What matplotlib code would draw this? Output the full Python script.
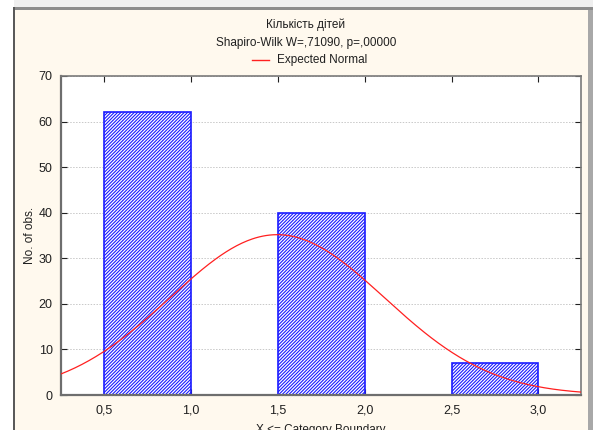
import numpy as np
import matplotlib
matplotlib.use("Agg")
import matplotlib.pyplot as plt
from matplotlib.patches import Rectangle

plt.rcParams['font.family'] = ['Liberation Sans', 'DejaVu Sans']
plt.rcParams['hatch.linewidth'] = 0.8
plt.rcParams['hatch.color'] = '#3c3cff'

# Number of children per family and how many families had it
child_counts = [1, 2, 3]
frequencies = [62, 40, 7]
bin_width = 0.5
x_ticks = [0.5, 1.0, 1.5, 2.0, 2.5, 3.0]
x_tick_labels = ["0,5", "1,0", "1,5", "2,0", "2,5", "3,0"]
y_ticks = [0, 10, 20, 30, 40, 50, 60, 70]
y_tick_labels = ["0", "10", "20", "30", "40", "50", "60", "70"]

title = "Кількість дітей"
subtitle = "Shapiro-Wilk W=,71090, p=,00000"
legend_label = "Expected Normal"
x_label = "X <= Category Boundary"
y_label = "No. of obs."

W, H = 601, 430
fig = plt.figure(figsize=(W / 100, H / 100), dpi=100)
fig.patch.set_facecolor('white')


def fx(px):
    return px / W


def fy(py):
    return 1 - py / H


def frect(x0, y0, x1, y1, color):
    fig.patches.append(Rectangle((fx(x0), fy(y1)), fx(x1) - fx(x0), fy(y0) - fy(y1),
                                 transform=fig.transFigure, facecolor=color,
                                 edgecolor='none', zorder=-10))


# window frame around the graph panel
frect(14, 0, 593, 7, '#efefef')
frect(14, 7, 593, 10, '#8c8c8c')
frect(14, 10, 589, 430, '#fff9ee')
frect(588, 10, 593, 430, '#a8a8a8')
frect(13, 7, 15, 430, '#5a5a5a')

ax = fig.add_axes([fx(61), fy(395), fx(581) - fx(61), fy(76) - fy(395)])
ax.set_zorder(5)
ax.set_facecolor('white')
ax.set_xlim(0.25, 3.245)
ax.set_ylim(0, 70)

# histogram bars: each bin ends at its category value
lefts = [c - bin_width for c in child_counts]
ax.bar(lefts, frequencies, width=bin_width, align='edge', facecolor='white',
       edgecolor='#1a1aff', linewidth=1.2, hatch='/' * 10, zorder=2)

# expected normal curve from the sample mean and standard deviation
vals = np.repeat(child_counts, frequencies)
n = len(vals)
mu = vals.mean()
sd = vals.std(ddof=1)
xs = np.linspace(0.25, 3.245, 300)
ys = n * bin_width * np.exp(-0.5 * ((xs - mu) / sd) ** 2) / (sd * np.sqrt(2 * np.pi))
ax.plot(xs, ys, color='#ff2020', linewidth=0.9, zorder=3)

ax.set_yticks(y_ticks)
ax.set_yticklabels(y_tick_labels)
ax.set_xticks(x_ticks)
ax.set_xticklabels(x_tick_labels)
ax.tick_params(axis='both', direction='in', length=4, width=0.8, color='#202020',
               labelsize=9, labelcolor='#202020', top=True, right=True)
ax.tick_params(axis='x', pad=7)
ax.tick_params(axis='y', pad=6)
ax.yaxis.grid(True, color='#c8c8c8', linestyle=(0, (1.5, 1.5)), linewidth=0.7, zorder=1)
ax.set_axisbelow(True)
for side in ['left', 'bottom']:
    ax.spines[side].set_color('#6e6e6e')
    ax.spines[side].set_linewidth(1.6)
for side in ['top', 'right']:
    ax.spines[side].set_color('#7a7a7a')
    ax.spines[side].set_linewidth(1.2)

fig.text(fx(30), fy(235), y_label, ha='center', va='center', rotation=90,
         fontsize=8.5, color='#202020')

fig.text(fx(306), fy(25), title, ha='center', va='center', fontsize=8.5, color='#202020')
fig.text(fx(306), fy(43), subtitle, ha='center', va='center', fontsize=8.5, color='#202020')
fig.text(fx(277), fy(60), legend_label, ha='left', va='center', fontsize=8.5, color='#202020')
fig.lines.append(plt.Line2D([fx(252), fx(269)], [fy(60), fy(60)], transform=fig.transFigure,
                            color='#ff2020', linewidth=1.0))
fig.text(fx(321), fy(430), x_label, ha='center', va='center', fontsize=8.5, color='#202020')

fig.savefig("out.png", dpi=100)
